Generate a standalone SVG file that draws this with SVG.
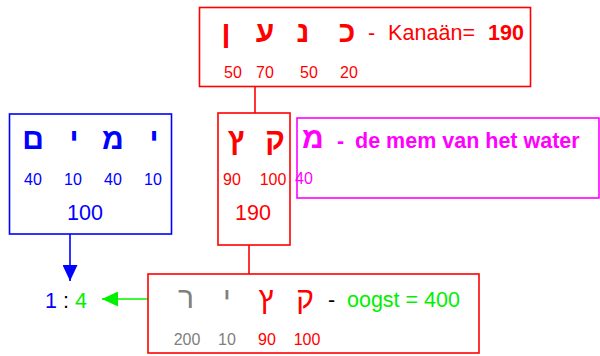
<svg xmlns="http://www.w3.org/2000/svg" width="600" height="356" viewBox="0 0 600 356">
<style>
.box{fill:#fff;stroke-width:1.6}
.heb{font-family:"Liberation Sans",Arial,sans-serif;font-size:30px;font-weight:bold;text-anchor:middle}
.hebr{font-family:"Liberation Sans",Arial,sans-serif;font-size:30px;text-anchor:middle}
.num{font-family:"Liberation Sans",Arial,sans-serif;font-size:16px;text-anchor:middle}
.big{font-family:"Liberation Sans",Arial,sans-serif;font-size:21.5px}
.r{fill:#ff0000}.b{fill:#0000ff}.m{fill:#ff00ff}.g{fill:#00f000}.gr{fill:#808080}.k{fill:#000}
</style>
<defs>
<marker id="ab" markerWidth="16" markerHeight="15" refX="16" refY="7.5" orient="auto" markerUnits="userSpaceOnUse"><path d="M0,0 L16,7.5 L0,15 Z" fill="#0000ff"/></marker>
<marker id="ag" markerWidth="16" markerHeight="15" refX="16" refY="7.5" orient="auto" markerUnits="userSpaceOnUse"><path d="M0,0 L16,7.5 L0,15 Z" fill="#00f000"/></marker>
</defs>
<g id="connectors">
<line x1="255" y1="86" x2="255" y2="113" stroke="#ff0000" stroke-width="1.6"/>
<line x1="249" y1="245" x2="249" y2="274" stroke="#ff0000" stroke-width="1.6"/>
<line x1="70" y1="234" x2="70" y2="281" stroke="#0000ff" stroke-width="1.6" marker-end="url(#ab)"/>
<line x1="148" y1="299" x2="102" y2="299" stroke="#00f000" stroke-width="1.6" marker-end="url(#ag)"/>
</g>
<g id="kanaan">
<rect class="box" x="199.5" y="7.5" width="331" height="79" stroke="#ff0000"/>
<text class="heb r" x="226" y="42">ן</text>
<text class="heb r" x="265" y="42">ע</text>
<text class="heb r" x="303" y="42">נ</text>
<text class="heb r" x="347" y="42">כ</text>
<text class="big r" x="368" y="40">-</text>
<text class="big r" x="388" y="40" textLength="87">Kanaän=</text>
<text class="big r" x="488" y="40" font-weight="bold">190</text>
<text class="num r" x="233" y="78">50</text>
<text class="num r" x="265" y="78">70</text>
<text class="num r" x="309" y="78">50</text>
<text class="num r" x="349" y="78">20</text>
</g>
<g id="jamim">
<rect class="box" x="9.5" y="114" width="162" height="120" stroke="#0000ff"/>
<text class="heb b" x="33" y="149">ם</text>
<text class="heb b" x="74" y="149">י</text>
<text class="heb b" x="113" y="149">מ</text>
<text class="heb b" x="154" y="149">י</text>
<text class="num b" x="33" y="185">40</text>
<text class="num b" x="73" y="185">10</text>
<text class="num b" x="113" y="185">40</text>
<text class="num b" x="153" y="185">10</text>
<text class="big b" x="85" y="220" text-anchor="middle">100</text>
</g>
<g id="qets">
<rect class="box" x="218" y="113" width="72" height="132" stroke="#ff0000"/>
<text class="heb r" x="236" y="149">ץ</text>
<text class="heb r" x="275" y="149">ק</text>
<text class="num r" x="232" y="185">90</text>
<text class="num r" x="273" y="185">100</text>
<text class="big r" x="253" y="220" text-anchor="middle">190</text>
</g>
<g id="mem">
<rect class="box" x="297" y="118" width="302" height="80" stroke="#ff00ff"/>
<text class="heb m" x="313" y="148">מ</text>
<text class="big m" x="337" y="148" font-weight="bold">-</text>
<text class="big m" x="355" y="148" font-weight="bold">de mem van het water</text>
<text class="num m" x="304" y="184" text-anchor="start">40</text>
</g>
<g id="oogst">
<rect class="box" x="148" y="274" width="331" height="79" stroke="#ff0000"/>
<text class="hebr gr" x="186" y="308">ר</text>
<text class="hebr gr" x="227" y="308">י</text>
<text class="hebr r" x="266" y="308">ץ</text>
<text class="hebr r" x="305" y="308">ק</text>
<text class="big k" x="328" y="307">-</text>
<text class="big g" x="347" y="307">oogst = 400</text>
<text class="num gr" x="187" y="345">200</text>
<text class="num gr" x="227" y="345">10</text>
<text class="num r" x="267" y="345">90</text>
<text class="num r" x="307" y="345">100</text>
</g>
<g id="ratio">
<text class="big" x="45" y="308"><tspan class="b">1</tspan><tspan class="k"> : </tspan><tspan class="g">4</tspan></text>
</g>
</svg>
